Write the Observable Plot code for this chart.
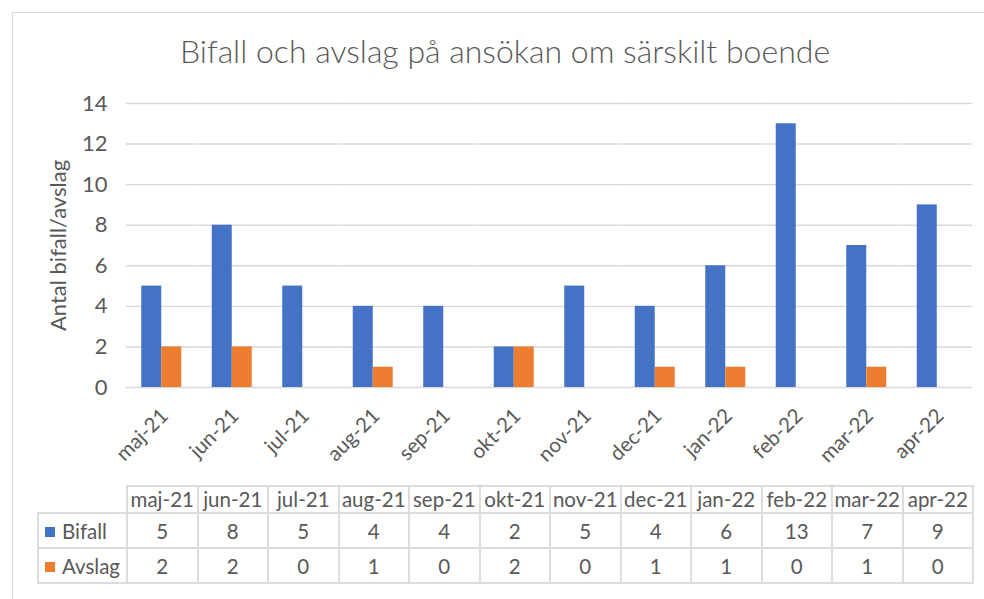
<!DOCTYPE html>
<html>
<head>
<meta charset="utf-8">
<script src="https://cdn.jsdelivr.net/npm/d3@7"></script>
<script src="https://cdn.jsdelivr.net/npm/@observablehq/plot@0.6"></script>
<style>
  html, body { margin: 0; padding: 0; background: #fff; overflow: hidden; }
  body { width: 984px; height: 599px; position: relative; font-family: Lato, "Open Sans", sans-serif; color: #595959; }
  #frame { position: absolute; left: 12px; top: 12px; width: 980px; height: 600px; border: 1px solid #d9d9d9; border-right: none; border-bottom: none; box-sizing: border-box; }
  #title { position: absolute; top: 31px; left: 505px; transform: translateX(-50%); white-space: nowrap; font-size: 32px; font-weight: 300; color: #595959; line-height: 40px; }
  #chart { position: absolute; top: 83px; left: 13px; }
  #tbl { position: absolute; top: 485px; left: 37px; border-collapse: collapse; table-layout: fixed; font-size: 20.5px; color: #595959; }
  #tbl td { border: 2px solid #dcdcdc; text-align: center; padding: 0; white-space: nowrap; overflow: hidden; }
  #tbl tr.head td { height: 25px; line-height: 25px; }
  #tbl tr.row td { height: 33px; }
  #tbl td.corner { border-top: none; border-left: none; }
  #tbl td.key { text-align: left; padding-left: 6px; }
  .sw { display: inline-block; width: 10px; height: 10px; margin-right: 7px; vertical-align: 2px; }
</style>
</head>
<body>
<div id="frame"></div>
<div id="title"></div>
<div id="chart"></div>
<table id="tbl"></table>
<script>
const titleText = "Bifall och avslag på ansökan om särskilt boende";
const yLabel = "Antal bifall/avslag";
const months = ["maj-21", "jun-21", "jul-21", "aug-21", "sep-21", "okt-21", "nov-21", "dec-21", "jan-22", "feb-22", "mar-22", "apr-22"];
const seriesNames = ["Bifall", "Avslag"];
const bifall = [5, 8, 5, 4, 4, 2, 5, 4, 6, 13, 7, 9];
const avslag = [2, 2, 0, 1, 0, 2, 0, 1, 1, 0, 1, 0];
const yTicks = [0, 2, 4, 6, 8, 10, 12, 14];
const colors = ["#4472C4", "#ED7D31"];

const seriesValues = [bifall, avslag];
const data = months.flatMap((m, i) => seriesNames.map((s, k) => ({month: m, series: s, value: seriesValues[k][i]})));

document.getElementById("title").textContent = titleText;

const plot = Plot.plot({
  width: 971,
  height: 400,
  marginTop: 20,
  marginBottom: 96,
  marginLeft: 113,
  marginRight: 12,
  style: {fontFamily: "Lato, 'Open Sans', sans-serif", fontSize: "20px", color: "#595959", background: "transparent", overflow: "visible"},
  fx: {domain: months, padding: 0, round: false, label: null},
  x: {domain: seriesNames, axis: null, paddingInner: 0, paddingOuter: 0.7625, round: false},
  y: {domain: [0, 14]},
  color: {domain: seriesNames, range: colors},
  marks: [
    Plot.ruleY(yTicks, {stroke: "#d9d9d9", strokeWidth: 1.4}),
    Plot.barY(data, {fx: "month", x: "series", y: "value", fill: "series"}),
    Plot.axisY({ticks: yTicks, tickSize: 0, tickPadding: 19, label: yLabel, labelAnchor: "center", labelArrow: "none", labelOffset: 76, fontSize: 22}),
    Plot.axisFx({anchor: "bottom", tickRotate: -45, tickSize: 0, tickPadding: 25, label: null, fontSize: 20.5, dx: 3})
  ]
});
document.getElementById("chart").appendChild(plot);

// data table below the chart, column widths taken from the fx scale
const fx = plot.scale("fx");
const colW = fx.step;
const tbl = document.getElementById("tbl");
const firstW = 89;
const colgroup = document.createElement("colgroup");
const c0 = document.createElement("col"); c0.style.width = firstW + "px"; colgroup.appendChild(c0);
months.forEach(() => { const c = document.createElement("col"); c.style.width = colW + "px"; colgroup.appendChild(c); });
tbl.appendChild(colgroup);
tbl.style.width = (firstW + colW * months.length) + "px";

const head = document.createElement("tr"); head.className = "head";
const corner = document.createElement("td"); corner.className = "corner"; head.appendChild(corner);
months.forEach(m => { const td = document.createElement("td"); td.textContent = m; head.appendChild(td); });
tbl.appendChild(head);

seriesNames.forEach((s, k) => {
  const tr = document.createElement("tr"); tr.className = "row";
  const key = document.createElement("td"); key.className = "key";
  const sw = document.createElement("span"); sw.className = "sw"; sw.style.background = colors[k];
  key.appendChild(sw); key.appendChild(document.createTextNode(s));
  tr.appendChild(key);
  seriesValues[k].forEach(v => { const td = document.createElement("td"); td.textContent = v; tr.appendChild(td); });
  tbl.appendChild(tr);
});
</script>
</body>
</html>
